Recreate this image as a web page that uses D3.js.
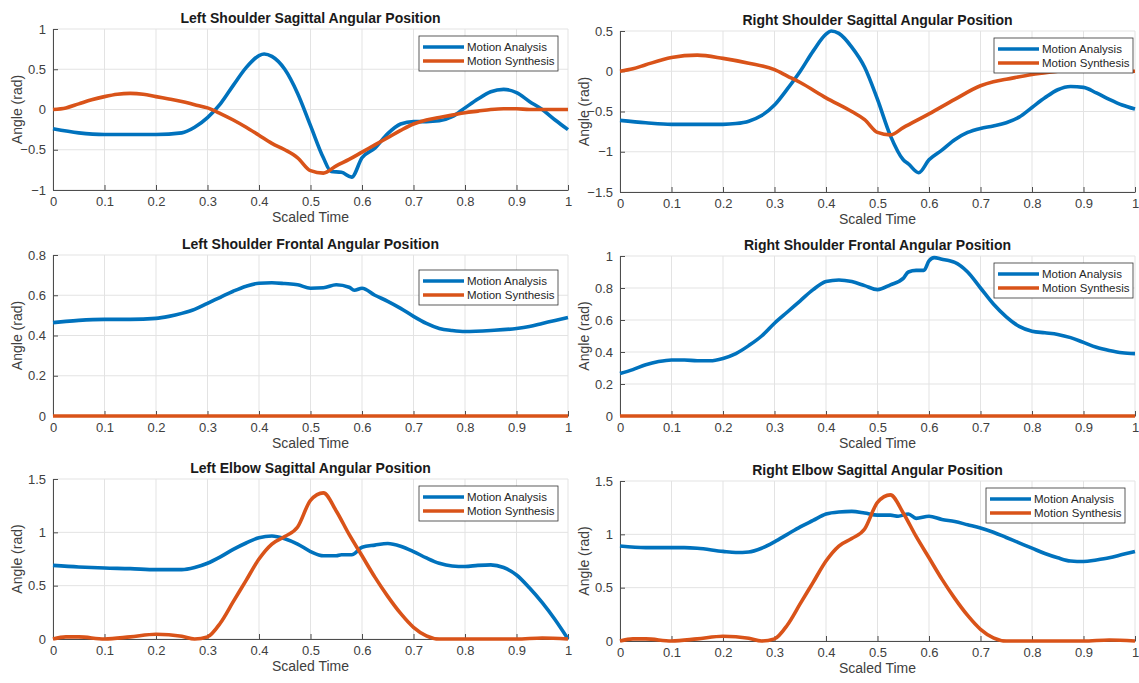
<!DOCTYPE html>
<html>
<head>
<meta charset="utf-8">
<script src="https://d3js.org/d3.v7.min.js"></script>
<style>
  body { margin: 0; background: #fff; }
  text { font-family: "Liberation Sans", Arial, sans-serif; }
</style>
</head>
<body>
<div id="chart"></div>
<script>
// ---- data ----
var timeTicks = [0, 0.1, 0.2, 0.3, 0.4, 0.5, 0.6, 0.7, 0.8, 0.9, 1];
var seriesNames = ["Motion Analysis", "Motion Synthesis"];

// [scaled time, angle]
var lsSagAnalysis = [[0,-0.24],[0.05,-0.29],[0.1,-0.31],[0.15,-0.31],[0.2,-0.31],[0.25,-0.29],[0.275,-0.22],[0.3,-0.1],[0.325,0.07],[0.35,0.3],[0.375,0.52],[0.4,0.67],[0.41,0.69],[0.425,0.66],[0.45,0.5],[0.475,0.2],[0.5,-0.2],[0.525,-0.6],[0.54,-0.77],[0.56,-0.78],[0.58,-0.84],[0.6,-0.6],[0.625,-0.48],[0.65,-0.3],[0.675,-0.18],[0.7,-0.15],[0.725,-0.15],[0.75,-0.14],[0.775,-0.09],[0.8,0.02],[0.825,0.13],[0.85,0.22],[0.875,0.25],[0.9,0.21],[0.925,0.1],[0.95,0.0],[0.975,-0.13],[1,-0.25]];
var lsSagSynthesis = [[0,0],[0.025,0.02],[0.05,0.07],[0.075,0.12],[0.1,0.16],[0.125,0.19],[0.15,0.2],[0.175,0.19],[0.2,0.16],[0.225,0.13],[0.25,0.1],[0.275,0.06],[0.3,0.02],[0.325,-0.05],[0.35,-0.13],[0.375,-0.22],[0.4,-0.32],[0.425,-0.42],[0.45,-0.5],[0.475,-0.6],[0.5,-0.76],[0.525,-0.79],[0.55,-0.7],[0.575,-0.62],[0.6,-0.53],[0.625,-0.44],[0.65,-0.35],[0.675,-0.26],[0.7,-0.18],[0.725,-0.13],[0.75,-0.1],[0.775,-0.07],[0.8,-0.04],[0.825,-0.02],[0.85,0],[0.875,0.01],[0.9,0.01],[0.925,0],[1,0]];

var rsSagAnalysis = [[0,-0.61],[0.05,-0.64],[0.1,-0.66],[0.15,-0.66],[0.2,-0.66],[0.225,-0.65],[0.25,-0.62],[0.275,-0.55],[0.3,-0.42],[0.325,-0.22],[0.35,0.0],[0.375,0.25],[0.4,0.46],[0.41,0.5],[0.425,0.47],[0.45,0.3],[0.475,0.05],[0.5,-0.35],[0.525,-0.8],[0.55,-1.1],[0.56,-1.15],[0.58,-1.26],[0.6,-1.1],[0.625,-0.98],[0.65,-0.85],[0.675,-0.76],[0.7,-0.71],[0.725,-0.68],[0.75,-0.64],[0.775,-0.57],[0.8,-0.45],[0.825,-0.33],[0.85,-0.23],[0.875,-0.19],[0.9,-0.2],[0.925,-0.27],[0.95,-0.35],[0.975,-0.42],[1,-0.47]];
var rsSagSynthesis = [[0,0],[0.025,0.03],[0.05,0.08],[0.1,0.17],[0.15,0.2],[0.2,0.16],[0.25,0.1],[0.3,0.02],[0.325,-0.06],[0.35,-0.14],[0.4,-0.33],[0.45,-0.5],[0.475,-0.6],[0.5,-0.76],[0.525,-0.79],[0.55,-0.7],[0.6,-0.53],[0.65,-0.35],[0.7,-0.18],[0.725,-0.13],[0.75,-0.1],[0.8,-0.04],[0.85,0],[0.875,0.02],[0.9,0.02],[0.95,0],[1,0]];

var lsFroAnalysis = [[0,0.464],[0.025,0.47],[0.05,0.475],[0.1,0.48],[0.15,0.48],[0.2,0.485],[0.225,0.495],[0.25,0.51],[0.275,0.53],[0.3,0.56],[0.325,0.59],[0.35,0.62],[0.375,0.645],[0.4,0.66],[0.425,0.662],[0.45,0.658],[0.475,0.652],[0.5,0.635],[0.525,0.637],[0.55,0.652],[0.575,0.64],[0.585,0.625],[0.6,0.635],[0.625,0.6],[0.65,0.57],[0.675,0.535],[0.7,0.495],[0.725,0.46],[0.75,0.435],[0.775,0.425],[0.8,0.42],[0.85,0.425],[0.9,0.435],[0.925,0.445],[0.95,0.46],[0.975,0.475],[1,0.49]];
var lsFroSynthesis = [[0,0],[1,0]];

var rsFroAnalysis = [[0,0.265],[0.025,0.29],[0.05,0.32],[0.075,0.34],[0.1,0.35],[0.125,0.35],[0.15,0.345],[0.175,0.345],[0.2,0.36],[0.225,0.39],[0.25,0.44],[0.275,0.5],[0.3,0.58],[0.325,0.65],[0.35,0.72],[0.375,0.79],[0.4,0.84],[0.425,0.85],[0.45,0.84],[0.475,0.815],[0.5,0.79],[0.525,0.82],[0.55,0.86],[0.56,0.9],[0.575,0.91],[0.59,0.91],[0.6,0.97],[0.61,0.99],[0.625,0.98],[0.64,0.97],[0.65,0.96],[0.675,0.9],[0.7,0.8],[0.725,0.7],[0.75,0.62],[0.775,0.56],[0.8,0.53],[0.825,0.52],[0.85,0.51],[0.875,0.49],[0.9,0.46],[0.925,0.43],[0.95,0.41],[0.975,0.395],[1,0.39]];
var rsFroSynthesis = [[0,0],[1,0]];

var leSagAnalysis = [[0,0.69],[0.05,0.675],[0.1,0.665],[0.15,0.66],[0.2,0.65],[0.25,0.65],[0.275,0.67],[0.3,0.71],[0.325,0.77],[0.35,0.84],[0.375,0.9],[0.4,0.95],[0.425,0.965],[0.45,0.94],[0.475,0.89],[0.5,0.82],[0.525,0.78],[0.55,0.78],[0.56,0.79],[0.58,0.79],[0.6,0.86],[0.625,0.88],[0.65,0.895],[0.675,0.87],[0.7,0.82],[0.725,0.76],[0.75,0.71],[0.775,0.685],[0.8,0.68],[0.825,0.69],[0.85,0.695],[0.875,0.67],[0.9,0.6],[0.925,0.48],[0.95,0.34],[0.975,0.18],[1,0]];
var leSagSynthesis = [[0,0],[0.025,0.02],[0.05,0.02],[0.1,0],[0.15,0.02],[0.2,0.045],[0.225,0.04],[0.25,0.025],[0.275,0],[0.3,0.02],[0.325,0.15],[0.35,0.35],[0.375,0.55],[0.4,0.75],[0.425,0.89],[0.45,0.96],[0.475,1.05],[0.5,1.3],[0.525,1.37],[0.55,1.2],[0.575,0.98],[0.6,0.78],[0.625,0.58],[0.65,0.4],[0.675,0.24],[0.7,0.11],[0.725,0.03],[0.75,0],[0.8,0],[0.9,0],[0.95,0.01],[1,0]];

var reSagAnalysis = [[0,0.89],[0.05,0.875],[0.1,0.875],[0.125,0.875],[0.15,0.87],[0.2,0.84],[0.225,0.83],[0.25,0.835],[0.275,0.87],[0.3,0.93],[0.325,1.0],[0.35,1.07],[0.375,1.13],[0.4,1.19],[0.425,1.21],[0.45,1.215],[0.475,1.2],[0.5,1.18],[0.525,1.18],[0.54,1.17],[0.56,1.19],[0.575,1.15],[0.6,1.17],[0.625,1.14],[0.65,1.12],[0.675,1.09],[0.7,1.06],[0.725,1.02],[0.75,0.97],[0.775,0.92],[0.8,0.87],[0.825,0.82],[0.85,0.78],[0.875,0.75],[0.9,0.745],[0.925,0.76],[0.95,0.78],[0.975,0.81],[1,0.84]];
var reSagSynthesis = [[0,0],[0.025,0.02],[0.05,0.02],[0.1,0],[0.15,0.02],[0.2,0.045],[0.225,0.04],[0.25,0.025],[0.275,0],[0.3,0.02],[0.325,0.15],[0.35,0.35],[0.375,0.55],[0.4,0.75],[0.425,0.89],[0.45,0.96],[0.475,1.05],[0.5,1.3],[0.525,1.37],[0.55,1.2],[0.575,0.98],[0.6,0.78],[0.625,0.58],[0.65,0.4],[0.675,0.24],[0.7,0.11],[0.725,0.03],[0.75,0],[0.8,0],[0.9,0],[0.95,0.01],[1,0]];

var yTicksLsSag = [-1, -0.5, 0, 0.5, 1];
var yTicksRsSag = [-1.5, -1, -0.5, 0, 0.5];
var yTicksLsFro = [0, 0.2, 0.4, 0.6, 0.8];
var yTicksRsFro = [0, 0.2, 0.4, 0.6, 0.8, 1];
var yTicksElbow = [0, 0.5, 1, 1.5];

var panels = [
  { title: "Left Shoulder Sagittal Angular Position",  left: 53,  top: 29,  h: 161, yTicks: yTicksLsSag, a: lsSagAnalysis, s: lsSagSynthesis, legX: 419 },
  { title: "Right Shoulder Sagittal Angular Position", left: 620, top: 31,  h: 161, yTicks: yTicksRsSag, a: rsSagAnalysis, s: rsSagSynthesis, legX: 994 },
  { title: "Left Shoulder Frontal Angular Position",   left: 53,  top: 255, h: 161, yTicks: yTicksLsFro, a: lsFroAnalysis, s: lsFroSynthesis, legX: 419, legDy: 8 },
  { title: "Right Shoulder Frontal Angular Position",  left: 620, top: 256, h: 160, yTicks: yTicksRsFro, a: rsFroAnalysis, s: rsFroSynthesis, legX: 994 },
  { title: "Left Elbow Sagittal Angular Position",     left: 53,  top: 479, h: 160, yTicks: yTicksElbow, a: leSagAnalysis, s: leSagSynthesis, legX: 419 },
  { title: "Right Elbow Sagittal Angular Position",    left: 620, top: 481, h: 160, yTicks: yTicksElbow, a: reSagAnalysis, s: reSagSynthesis, legX: 986 }
];

var W = 1139, H = 683, plotW = 515;
var colors = ["#0072BD", "#D95319"];
var axisColor = "#4d4d4d", gridColor = "#e3e3e3", textColor = "#404040";

var svg = d3.select("#chart").append("svg")
  .attr("width", W).attr("height", H);

panels.forEach(function (p) {
  var x = d3.scaleLinear().domain([0, 1]).range([0, plotW]);
  var y = d3.scaleLinear().domain(d3.extent(p.yTicks)).range([p.h, 0]);

  var g = svg.append("g").attr("transform", "translate(" + p.left + "," + p.top + ")");

  // grid
  g.append("g").selectAll("line").data(timeTicks).enter().append("line")
    .attr("x1", function (d) { return x(d); }).attr("x2", function (d) { return x(d); })
    .attr("y1", 0).attr("y2", p.h)
    .attr("stroke", gridColor).attr("stroke-width", 1);
  g.append("g").selectAll("line").data(p.yTicks).enter().append("line")
    .attr("x1", 0).attr("x2", plotW)
    .attr("y1", function (d) { return y(d); }).attr("y2", function (d) { return y(d); })
    .attr("stroke", gridColor).attr("stroke-width", 1);

  // axes (ticks inward, like matlab)
  var xAxis = g.append("g").attr("transform", "translate(0," + p.h + ")")
    .call(d3.axisBottom(x).tickValues(timeTicks).tickSizeInner(-5).tickSizeOuter(0)
      .tickPadding(7).tickFormat(d3.format("~g")));
  var yAxis = g.append("g")
    .call(d3.axisLeft(y).tickValues(p.yTicks).tickSizeInner(-5).tickSizeOuter(0)
      .tickPadding(7).tickFormat(d3.format("~g")));
  [xAxis, yAxis].forEach(function (ax) {
    ax.select(".domain").attr("stroke", axisColor);
    ax.selectAll(".tick line").attr("stroke", axisColor);
    ax.selectAll(".tick text").attr("fill", textColor)
      .style("font-family", "'Liberation Sans', Arial, sans-serif").style("font-size", "13px");
  });

  // lines
  var line = d3.line()
    .x(function (d) { return x(d[0]); })
    .y(function (d) { return y(d[1]); })
    .curve(d3.curveMonotoneX);
  [p.a, p.s].forEach(function (ser, i) {
    g.append("path").datum(ser)
      .attr("fill", "none").attr("stroke", colors[i])
      .attr("stroke-width", 3.6).attr("stroke-linejoin", "round")
      .attr("d", line);
  });

  // title + labels
  g.append("text").attr("x", plotW / 2).attr("y", -6)
    .attr("text-anchor", "middle").attr("font-weight", "bold")
    .attr("font-size", "14px").attr("fill", "#1a1a1a").text(p.title);
  g.append("text").attr("x", plotW / 2).attr("y", p.h + 32)
    .attr("text-anchor", "middle").attr("font-size", "14px").attr("fill", textColor)
    .text("Scaled Time");
  g.append("text")
    .attr("transform", "translate(" + (-31) + "," + (p.h / 2) + ") rotate(-90)")
    .attr("text-anchor", "middle").attr("font-size", "14px").attr("fill", textColor)
    .text("Angle (rad)");

  // legend
  var lx = p.legX - p.left, ly = 7 + (p.legDy || 0);
  var leg = g.append("g").attr("transform", "translate(" + lx + "," + ly + ")");
  leg.append("rect").attr("width", 139).attr("height", 35)
    .attr("fill", "#fff").attr("stroke", "#333").attr("stroke-width", 0.8);
  seriesNames.forEach(function (name, i) {
    var yy = 11 + i * 14;
    leg.append("line").attr("x1", 4).attr("x2", 45).attr("y1", yy).attr("y2", yy)
      .attr("stroke", colors[i]).attr("stroke-width", 3.6);
    leg.append("text").attr("x", 48).attr("y", yy + 4)
      .attr("font-size", "11.5px").attr("fill", "#262626").text(name);
  });
});
</script>
</body>
</html>
